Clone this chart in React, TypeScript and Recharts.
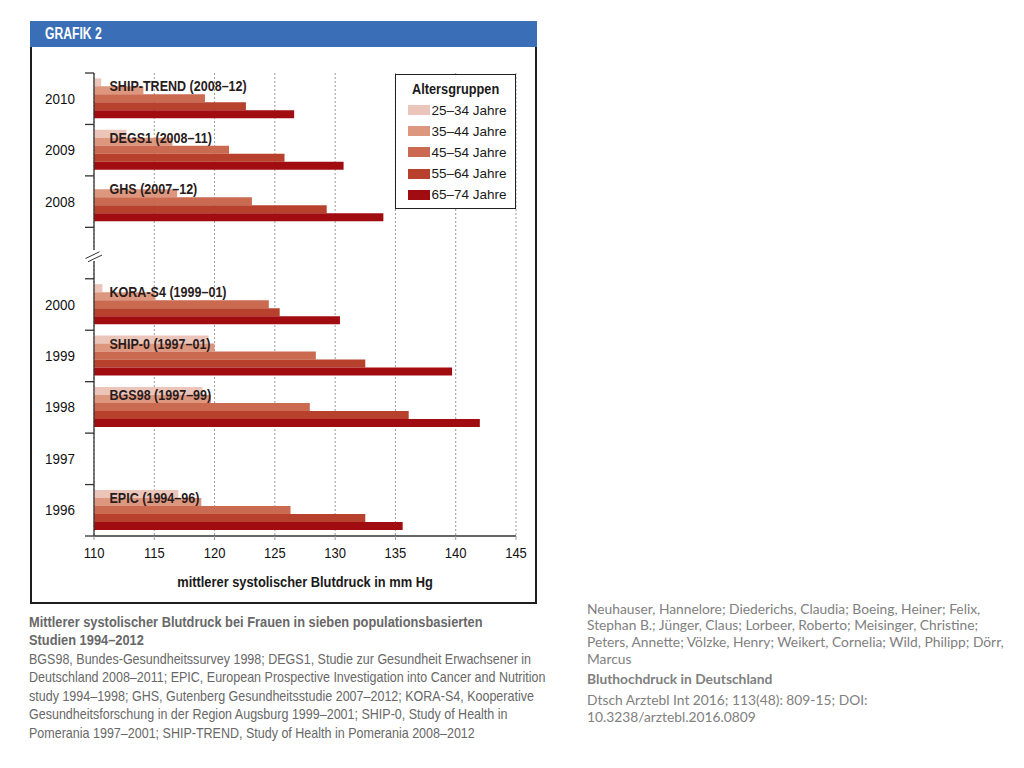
import React from "react";
import {
  BarChart,
  Bar,
  XAxis,
  YAxis,
  CartesianGrid,
  Legend,
  LabelList,
} from "recharts";

// Helvetica Condensed look-alike: Liberation Sans squeezed horizontally
const SANS = '"Liberation Sans", Arial, sans-serif';
const SIDE_FONT = 'Lato, "Open Sans", sans-serif';
const K_BOLD = 0.885;
const K_REG = 0.834;

// categories top to bottom; "gap" is the axis break between 2000 and 2008
const years = ["2010", "2009", "2008", "gap", "2000", "1999", "1998", "1997", "1996"];
const studies = [
  "SHIP-TREND (2008–12)",
  "DEGS1 (2008–11)",
  "GHS (2007–12)",
  "",
  "KORA-S4 (1999–01)",
  "SHIP-0 (1997–01)",
  "BGS98 (1997–99)",
  "",
  "EPIC (1994–96)",
];

const age25_34 = [110.6, 112.7, null, null, 110.7, 119.5, 119.0, null, 117.0];
const age35_44 = [114.1, 116.5, 116.9, null, 115.1, 120.0, 119.7, null, 118.9];
const age45_54 = [119.2, 121.2, 123.1, null, 124.5, 128.4, 127.9, null, 126.3];
const age55_64 = [122.6, 125.8, 129.3, null, 125.4, 132.5, 136.1, null, 132.5];
const age65_74 = [126.6, 130.7, 134.0, null, 130.4, 139.7, 142.0, null, 135.6];

const xTicks = [110, 115, 120, 125, 130, 135, 140, 145];

const groups = [
  { key: "a25", name: "25–34 Jahre", color: "#ebc5b9" },
  { key: "a35", name: "35–44 Jahre", color: "#dd977f" },
  { key: "a45", name: "45–54 Jahre", color: "#ca6a50" },
  { key: "a55", name: "55–64 Jahre", color: "#b7412d" },
  { key: "a65", name: "65–74 Jahre", color: "#a10c10" },
];

const data = years.map((year, i) => ({
  year,
  study: studies[i],
  a25: age25_34[i],
  a35: age35_44[i],
  a45: age45_54[i],
  a55: age55_64[i],
  a65: age65_74[i],
}));

const CHART_W = 505;
const CHART_H = 554;
const MARGIN = { top: 27, right: 20, bottom: 4, left: 0 };
const Y_W = 63;
const X_H = 60;
const AXIS_X = MARGIN.left + Y_W;
const PLOT_H = CHART_H - MARGIN.top - MARGIN.bottom - X_H;

const Squeezed = ({ x, y, k, children, ...rest }: any) => (
  <text transform={`translate(${x},${y}) scale(${k},1)`} x={0} y={0} {...rest}>
    {children}
  </text>
);

const YearTick = (props: any) => {
  const { y, index, payload } = props;
  const band = PLOT_H / years.length;
  const top = y - band / 2;
  const isGap = payload.value === "gap";
  return (
    <g>
      <line x1={AXIS_X - 9} x2={AXIS_X} y1={top} y2={top} stroke="#333" strokeWidth={1.3} />
      {index === years.length - 1 && (
        <line x1={AXIS_X - 9} x2={AXIS_X} y1={top + band} y2={top + band} stroke="#333" strokeWidth={1.3} />
      )}
      {!isGap && (
        <Squeezed x={AXIS_X - 19} y={y + 5} k={0.96} textAnchor="end" fontSize={14} fill="#111">
          {payload.value}
        </Squeezed>
      )}
      {isGap && (
        <g>
          <rect x={AXIS_X - 3} y={y - 3} width={6} height={11} fill="#fff" />
          <line x1={AXIS_X - 8.5} y1={y + 5.5} x2={AXIS_X + 5.5} y2={y - 1.3} stroke="#333" strokeWidth={1} />
          <line x1={AXIS_X - 6} y1={y + 8.7} x2={AXIS_X + 8} y2={y + 2} stroke="#333" strokeWidth={1} />
        </g>
      )}
    </g>
  );
};

const XTick = (props: any) => {
  const { x, y, payload } = props;
  return (
    <Squeezed x={x} y={y + 10} k={0.93} textAnchor="middle" fontSize={14} fill="#111">
      {payload.value}
    </Squeezed>
  );
};

const AxisTitle = (props: any) => {
  const vb = props.viewBox || {};
  return (
    <Squeezed
      x={vb.x + vb.width / 2}
      y={vb.y + vb.height - 9}
      k={0.887}
      textAnchor="middle"
      fontSize={14.5}
      fontWeight={700}
      fill="#1a1a1a"
    >
      mittlerer systolischer Blutdruck in mm Hg
    </Squeezed>
  );
};

const StudyLabel = (props: any) => {
  const { x, y, height, value } = props;
  if (!value) return null;
  return (
    <Squeezed x={x + 15.5} y={y - 3 * height + 5} k={0.865} fontSize={14.5} fontWeight={700} fill="#2a1c1c">
      {value}
    </Squeezed>
  );
};

const LegendBox = (props: any) => {
  const payload = props.payload || [];
  return (
    <div
      style={{
        width: 121,
        height: 135,
        border: "1.5px solid #222",
        boxSizing: "border-box",
        background: "#fff",
        fontFamily: SANS,
        color: "#1a1a1a",
        whiteSpace: "nowrap",
      }}
    >
      <div
        style={{
          fontWeight: 700,
          fontSize: 14.5,
          marginLeft: 16,
          marginTop: 5,
          lineHeight: "18px",
          transform: "scaleX(0.88)",
          transformOrigin: "left",
        }}
      >
        Altersgruppen
      </div>
      <div style={{ marginTop: 1.5 }}>
        {payload.map((p: any) => (
          <div key={p.value} style={{ display: "flex", alignItems: "center", height: 21.2, marginLeft: 11.5 }}>
            <span style={{ width: 22, height: 10, background: p.color, marginRight: 2, display: "inline-block" }} />
            <span style={{ fontSize: 13.5 }}>{p.value}</span>
          </div>
        ))}
      </div>
    </div>
  );
};

const captionBold = [
  "Mittlerer systolischer Blutdruck bei Frauen in sieben populationsbasierten",
  "Studien 1994–2012",
];
const captionLines = [
  "BGS98, Bundes-Gesundheitssurvey 1998; DEGS1, Studie zur Gesundheit Erwachsener in",
  "Deutschland 2008–2011; EPIC, European Prospective Investigation into Cancer and Nutrition",
  "study 1994–1998; GHS, Gutenberg Gesundheitsstudie 2007–2012; KORA-S4, Kooperative",
  "Gesundheitsforschung in der Region Augsburg 1999–2001; SHIP-0, Study of Health in",
  "Pomerania 1997–2001; SHIP-TREND, Study of Health in Pomerania 2008–2012",
];
const authorLines = [
  "Neuhauser, Hannelore; Diederichs, Claudia; Boeing, Heiner; Felix,",
  "Stephan B.; Jünger, Claus; Lorbeer, Roberto; Meisinger, Christine;",
  "Peters, Annette; Völzke, Henry; Weikert, Cornelia; Wild, Philipp; Dörr,",
  "Marcus",
];
const refLines = ["Dtsch Arztebl Int 2016; 113(48): 809-15; DOI:", "10.3238/arztebl.2016.0809"];

export default function App() {
  return (
    <div style={{ position: "absolute", left: 0, top: 0, width: 1024, height: 768, background: "#fff" }}>
      {/* frame with blue header */}
      <div
        style={{
          position: "absolute",
          left: 30,
          top: 21,
          width: 507,
          height: 583,
          border: "2px solid #1e1e1e",
          boxSizing: "border-box",
        }}
      >
        <div
          style={{
            position: "absolute",
            left: -2,
            right: -2,
            top: -2,
            height: 26,
            background: "#3a6eb6",
          }}
        >
          <div
            style={{
              color: "#fff",
              fontFamily: SANS,
              fontWeight: 700,
              fontSize: 16,
              lineHeight: "25px",
              marginLeft: 15,
              transform: "scaleX(0.76)",
              transformOrigin: "left",
              whiteSpace: "nowrap",
            }}
          >
            GRAFIK 2
          </div>
        </div>
      </div>

      <div style={{ position: "absolute", left: 31, top: 46, fontFamily: SANS }}>
        <BarChart
          width={CHART_W}
          height={CHART_H}
          data={data}
          layout="vertical"
          margin={MARGIN}
          barCategoryGap="10.4%"
          barGap={0}
        >
          <CartesianGrid horizontal={false} stroke="#9a9a9a" strokeDasharray="2 2" />
          <XAxis
            type="number"
            domain={[110, 145]}
            ticks={xTicks}
            height={X_H}
            axisLine={{ stroke: "#333", strokeWidth: 1.3 }}
            tickLine={{ stroke: "#9a9a9a" }}
            tickSize={4}
            tickMargin={8}
            tick={(p: any) => <XTick {...p} />}
            label={(p: any) => <AxisTitle {...p} />}
          />
          <YAxis
            type="category"
            dataKey="year"
            width={Y_W}
            interval={0}
            axisLine={{ stroke: "#333", strokeWidth: 1.3 }}
            tickLine={false}
            tick={(p: any) => <YearTick {...p} />}
          />
          <Legend
            layout="vertical"
            align="center"
            verticalAlign="middle"
            wrapperStyle={{ left: 364, top: 28, width: 121, height: 135 }}
            content={(p: any) => <LegendBox {...p} />}
          />
          {groups.map((g, i) => (
            <Bar key={g.key} dataKey={g.key} name={g.name} fill={g.color} isAnimationActive={false}>
              {i === groups.length - 1 && <LabelList dataKey="study" content={(p: any) => <StudyLabel {...p} />} />}
            </Bar>
          ))}
        </BarChart>
      </div>

      {/* caption */}
      <div
        style={{
          position: "absolute",
          left: 29,
          top: 612.5,
          fontFamily: SANS,
          fontSize: 15,
          lineHeight: "18.6px",
          color: "#686868",
          whiteSpace: "nowrap",
        }}
      >
        {captionBold.map((l) => (
          <div
            key={l}
            style={{ fontWeight: 700, fontSize: 14.5, transform: `scaleX(${K_BOLD})`, transformOrigin: "left" }}
          >
            {l}
          </div>
        ))}
        {captionLines.map((l) => (
          <div key={l} style={{ transform: `scaleX(${K_REG})`, transformOrigin: "left" }}>
            {l}
          </div>
        ))}
      </div>

      {/* source */}
      <div
        style={{
          position: "absolute",
          left: 587,
          top: 600.5,
          fontFamily: SIDE_FONT,
          fontSize: 13.8,
          lineHeight: "16.7px",
          color: "#808080",
          whiteSpace: "nowrap",
        }}
      >
        {authorLines.map((l) => (
          <div key={l}>{l}</div>
        ))}
        <div style={{ fontWeight: 700, marginTop: 4 }}>Bluthochdruck in Deutschland</div>
        <div style={{ marginTop: 4 }}>
          {refLines.map((l) => (
            <div key={l}>{l}</div>
          ))}
        </div>
      </div>
    </div>
  );
}
